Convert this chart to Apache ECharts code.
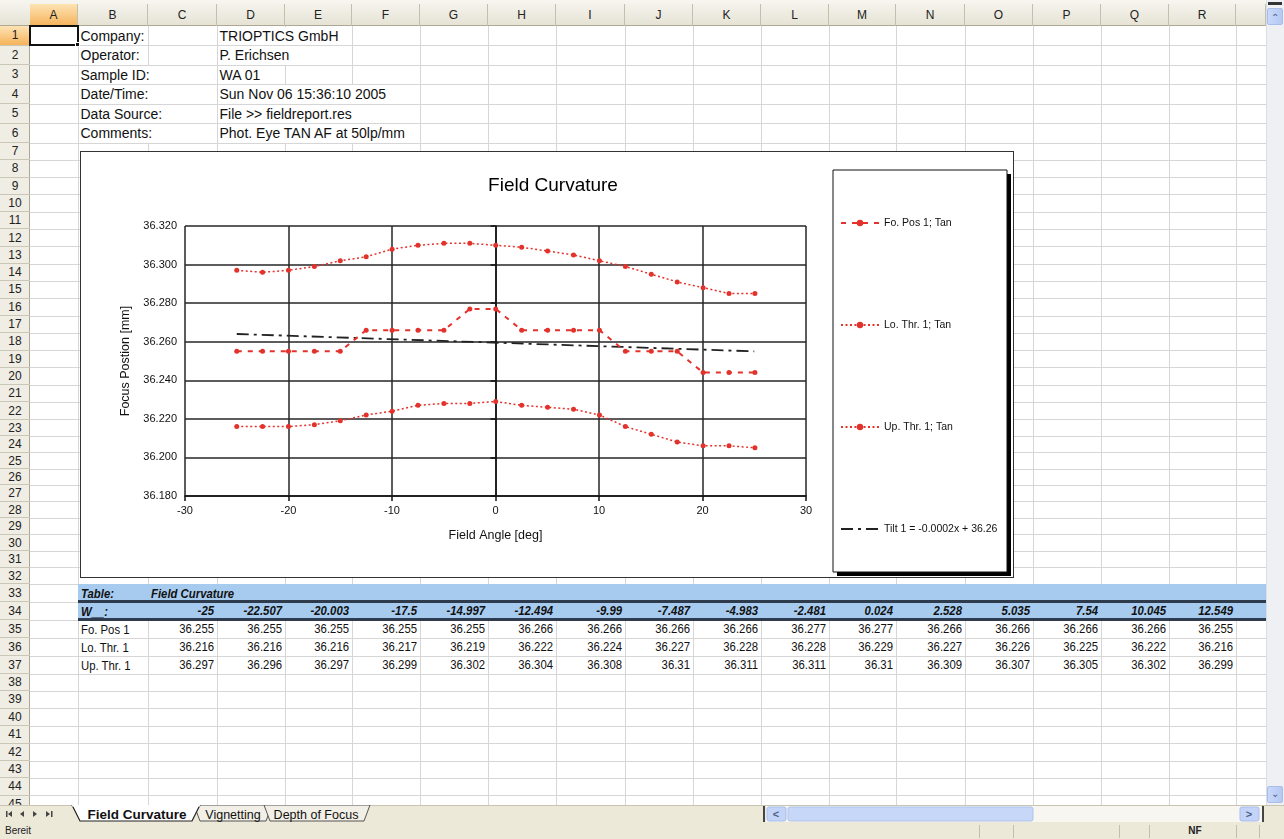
<!DOCTYPE html>
<html><head><meta charset="utf-8">
<script src="https://cdn.jsdelivr.net/npm/echarts@6/dist/echarts.min.js"></script>
<style>
html,body{margin:0;padding:0;}
body{width:1284px;height:839px;overflow:hidden;background:#fff;position:relative;font-family:Arial,'Liberation Sans',sans-serif;}
#sheet div{box-sizing:border-box;}
</style></head>
<body>
<div id="sheet"></div>
<div id="chartWrap" style="position:absolute;left:80px;top:151px;width:934px;height:427px;border:1px solid #333;box-sizing:border-box;background:#fff;">
  <div id="chart" style="width:932px;height:425px;"></div>
</div>
<script>
// ---------------- data ----------------
const infoLabels = ['Company:', 'Operator:', 'Sample ID:', 'Date/Time:', 'Data Source:', 'Comments:'];
const infoValues = ['TRIOPTICS GmbH', 'P. Erichsen', 'WA 01', 'Sun Nov 06 15:36:10 2005', 'File >> fieldreport.res', 'Phot. Eye TAN AF at 50lp/mm'];
const seriesNames = ['Fo. Pos 1; Tan', 'Lo. Thr. 1; Tan', 'Up. Thr. 1; Tan', 'Tilt 1 = -0.0002x + 36.26'];
const tableRowLabels = ['Fo. Pos 1', 'Lo. Thr. 1', 'Up. Thr. 1'];
const xAngles = [-25, -22.507, -20.003, -17.5, -14.997, -12.494, -9.99, -7.487, -4.983, -2.481, 0.024, 2.528, 5.035, 7.54, 10.045, 12.549, 15.052, 17.556, 20.06, 22.563, 25.066];
const foPos = [36.255, 36.255, 36.255, 36.255, 36.255, 36.266, 36.266, 36.266, 36.266, 36.277, 36.277, 36.266, 36.266, 36.266, 36.266, 36.255, 36.255, 36.255, 36.244, 36.244, 36.244];
const loThr = [36.216, 36.216, 36.216, 36.217, 36.219, 36.222, 36.224, 36.227, 36.228, 36.228, 36.229, 36.227, 36.226, 36.225, 36.222, 36.216, 36.212, 36.208, 36.206, 36.206, 36.205];
const upThr = [36.297, 36.296, 36.297, 36.299, 36.302, 36.304, 36.308, 36.31, 36.311, 36.311, 36.31, 36.309, 36.307, 36.305, 36.302, 36.299, 36.295, 36.291, 36.288, 36.285, 36.285];
const tiltX = [-25, 25];
const tiltY = [36.264, 36.255];
const tableCount = 16;
const xTicks = { min: -30, max: 30, step: 10 };
const yTicks = { min: 36.18, max: 36.32, step: 0.02 };

// ---------------- spreadsheet ----------------
const sheet = document.getElementById('sheet');
function box(l, t, w, h, style, html) {
  const d = document.createElement('div');
  d.style.cssText = 'position:absolute;left:' + l + 'px;top:' + t + 'px;width:' + w + 'px;height:' + h + 'px;' + (style || '');
  if (html != null) d.innerHTML = html;
  sheet.appendChild(d);
  return d;
}
const colEdges = [30, 78, 148, 217, 285, 352, 420, 488, 556, 625, 693, 761, 829, 896, 965, 1033, 1101, 1169, 1236, 1266];
const colLetters = ['A','B','C','D','E','F','G','H','I','J','K','L','M','N','O','P','Q','R',''];
const rowTop = {};
for (let n = 1; n <= 46; n++) {
  if (n <= 7) rowTop[n] = 26 + (n - 1) * 19.5;
  else if (n <= 23) rowTop[n] = 143 + (n - 7) * 17.3;
  else if (n <= 33) rowTop[n] = 419.8 + (n - 23) * 16.42;
  else if (n <= 38) rowTop[n] = 584 + (n - 33) * 18;
  else rowTop[n] = 674 + (n - 38) * 17.4;
}
const rowH = n => rowTop[n + 1] - rowTop[n];
const GRID = '#d6d6d6';
const SHEET_BOTTOM = 805;
for (let n = 1; n <= 45; n++) box(30, rowTop[n + 1] - 0.5, 1236, 1, 'background:' + GRID);
for (let i = 1; i < colEdges.length - 1; i++) box(colEdges[i] - 0.5, 26, 1, SHEET_BOTTOM - 26, 'background:' + GRID);
// blue table header rows 33-34
box(78, rowTop[33], 1188, rowTop[35] - rowTop[33], 'background:#a7cbef');
box(78, rowTop[34] - 2, 1188, 3, 'background:#2e3b4c');
box(78, rowTop[35] - 2, 1188, 3, 'background:#2e3b4c');

// column header row
box(0, 0, 1266, 26, 'background:linear-gradient(#f7f6f0,#e6e3d5);border-bottom:1px solid #aca895');
box(0, 26, 30, SHEET_BOTTOM - 26, 'background:#efede4;border-right:1px solid #aca895');
for (let i = 0; i < colEdges.length - 1; i++) {
  const l = colEdges[i], w = colEdges[i + 1] - l;
  const sel = i === 0;
  box(l, 4, w, 22, (sel ? 'background:linear-gradient(#fde3b4,#f6b35a);' : '') +
    'border-right:1px solid #c4c0ae;font-size:12px;color:#222;text-align:center;line-height:22px;', colLetters[i]);
}
for (let n = 1; n <= 45; n++) {
  const sel = n === 1;
  box(0, rowTop[n], 30, rowH(n), (sel ? 'background:linear-gradient(#fde3b4,#f6b35a);' : '') +
    'border-bottom:1px solid #cbc7b6;font-size:12px;color:#222;text-align:center;line-height:' + rowH(n) + 'px;', String(n));
}
const mctx = document.createElement('canvas').getContext('2d');
function textW(txt, font) { mctx.font = font; return mctx.measureText(txt).width; }
function leftCell(ci, n, txt, font, scale, bg) {
  const l = colEdges[ci];
  const w = textW(txt, font) * (scale || 1) + 4;
  let r = colEdges[ci + 1];
  let k = ci + 1;
  while (l + w > r && k < colEdges.length - 1) { k++; r = colEdges[k]; }
  const d = box(l + 0.5, rowTop[n] + 0.5, r - l - 1, rowH(n) - 1,
    'background:' + (bg || '#fff') + ';white-space:nowrap;overflow:visible;');
  const s = document.createElement('div');
  s.style.cssText = 'position:absolute;left:2px;top:0;white-space:nowrap;font:' + font + ';color:#111;line-height:' + (rowH(n) - 1) + 'px;transform-origin:left center;transform:scaleX(' + (scale || 1) + ');';
  s.textContent = txt;
  d.appendChild(s);
}
function rightCell(ci, n, txt, font, scale) {
  const l = colEdges[ci], w = colEdges[ci + 1] - l;
  const d = box(l, rowTop[n], w - 3, rowH(n), 'white-space:nowrap;text-align:right;font:' + font +
    ';color:#111;line-height:' + rowH(n) + 'px;transform-origin:right center;transform:scaleX(' + scale + ');');
  d.textContent = txt;
}
const infoFont = '14px Arial, "Liberation Sans", sans-serif';
for (let i = 0; i < infoLabels.length; i++) {
  leftCell(1, i + 1, infoLabels[i], infoFont, 1);
  leftCell(3, i + 1, infoValues[i], infoFont, 1);
}
const nf = '13.5px Arial, "Liberation Sans", sans-serif';
const bif = 'italic bold 13.5px Arial, "Liberation Sans", sans-serif';
leftCell(1, 33, 'Table:', bif, 0.84, 'transparent');
leftCell(2, 33, 'Field Curvature', bif, 0.84, 'transparent');
leftCell(1, 34, 'W__:', bif, 0.84, 'transparent');
for (let j = 0; j < tableCount; j++) rightCell(2 + j, 34, String(xAngles[j]), bif, 0.84);
const tableSeries = [foPos, loThr, upThr];
for (let r = 0; r < 3; r++) {
  leftCell(1, 35 + r, tableRowLabels[r], nf, 0.84);
  for (let j = 0; j < tableCount; j++) rightCell(2 + j, 35 + r, String(tableSeries[r][j]), nf, 0.84);
}
// A1 selection
box(29, rowTop[1] - 1, 50, rowH(1) + 1, 'border:2px solid #111;');
box(75, rowTop[2] - 4, 5, 5, 'background:#111;border:1px solid #fff;');

// vertical scrollbar
box(1266, 0, 18, SHEET_BOTTOM, 'background:#eef0f4;border-left:1px solid #d9dde6');
box(1268, 2, 14, 3, 'background:#333');
box(1267, 8, 16, 17, 'background:linear-gradient(90deg,#c9d8fa,#b5c9f2);border:1px solid #a8bde9;border-radius:2px;font-size:10px;color:#4d6185;text-align:center;line-height:17px;', '&#8963;');
box(1267, SHEET_BOTTOM - 19, 16, 17, 'background:linear-gradient(90deg,#c9d8fa,#b5c9f2);border:1px solid #a8bde9;border-radius:2px;font-size:10px;color:#4d6185;text-align:center;line-height:14px;', '&#8964;');

// tab bar + horizontal scrollbar
box(0, SHEET_BOTTOM, 1284, 18, 'background:#ece9d8;border-top:1px solid #c8c4b2');
const tabSvg = `
<svg width="1284" height="18" style="position:absolute;left:0;top:0" xmlns="http://www.w3.org/2000/svg">
 <g fill="#444">
  <rect x="6" y="6" width="1.5" height="6"/><polygon points="12,6 12,12 8,9"/>
  <polygon points="24,6 24,12 20,9"/>
  <polygon points="33,6 33,12 37,9"/>
  <polygon points="46,6 46,12 50,9"/><rect x="51" y="6" width="1.5" height="6"/>
 </g>
 <polygon points="194,0 200,16 266,16 272,0" fill="#f1efe6" stroke="#555" stroke-width="1"/>
 <polygon points="264,0 270,16 364,16 370,0" fill="#f1efe6" stroke="#555" stroke-width="1"/>
 <polygon points="72,0 80,16 192,16 200,0" fill="#ffffff" stroke="#222" stroke-width="1.2"/>
 <line x1="72" y1="0.5" x2="200" y2="0.5" stroke="#fff" stroke-width="2"/>
 <text x="137" y="13.5" font-family="Arial, Liberation Sans, sans-serif" font-size="13.5" font-weight="bold" text-anchor="middle" fill="#111">Field Curvature</text>
 <text x="233" y="13.5" font-family="Arial, Liberation Sans, sans-serif" font-size="12.5" text-anchor="middle" fill="#111">Vignetting</text>
 <text x="316" y="13.5" font-family="Arial, Liberation Sans, sans-serif" font-size="12.5" text-anchor="middle" fill="#111">Depth of Focus</text>
 <rect x="763" y="1" width="2" height="16" fill="#444"/>
 <rect x="766" y="1" width="498" height="16" fill="#f7f6f1"/>
 <rect x="767" y="2" width="19" height="14" rx="2" fill="#c3d4f8" stroke="#a8bde9"/>
 <text x="776" y="13" font-size="11" font-family="Arial" text-anchor="middle" fill="#4d6185" font-weight="bold">&lt;</text>
 <rect x="788" y="2" width="245" height="14" rx="2" fill="#c7d7f7" stroke="#b0c3ec"/>
 <rect x="1240" y="2" width="19" height="14" rx="2" fill="#c3d4f8" stroke="#a8bde9"/>
 <text x="1249" y="13" font-size="11" font-family="Arial" text-anchor="middle" fill="#4d6185" font-weight="bold">&gt;</text>
 <rect x="1262" y="1" width="2" height="16" fill="#444"/>
</svg>`;
box(0, SHEET_BOTTOM, 1284, 18, '', tabSvg);
// status bar
box(0, 823, 1284, 16, 'background:#ece9d8;');
box(5, 823, 80, 16, 'font-size:10px;color:#222;line-height:16px;', 'Bereit');
[979, 1013, 1119, 1149, 1236, 1259].forEach(x => box(x, 825, 1, 13, 'background:#c3bfae'));
box(1170, 823, 50, 16, 'font-size:10px;color:#222;line-height:16px;text-align:center;font-weight:bold', 'NF');

// ---------------- chart ----------------
const RED = '#e3322c';
const chart = echarts.init(document.getElementById('chart'), null, { renderer: 'canvas' });
const pts = arr => xAngles.map((x, i) => [x, arr[i]]);
const fontFam = 'Arial, "Liberation Sans", sans-serif';
const legendData = seriesNames.map((n, i) => i === 3
  ? { name: n, itemStyle: { color: 'rgba(0,0,0,0)', borderColor: 'rgba(0,0,0,0)', borderWidth: 0 } }
  : { name: n });
const option = {
  animation: false,
  backgroundColor: '#fff',
  textStyle: { fontFamily: fontFam },
  title: {
    text: 'Field Curvature', left: 467, top: 19, textAlign: 'center',
    textStyle: { fontSize: 19, fontWeight: 'normal', color: '#000', fontFamily: fontFam }
  },
  graphic: [
    { type: 'rect', shape: { x: 756, y: 22, width: 174, height: 402 }, style: { fill: '#000' }, z: 0 },
    { type: 'rect', shape: { x: 752, y: 18, width: 174, height: 402 }, style: { fill: '#fff', stroke: '#111', lineWidth: 1 }, z: 1 }
  ],
  legend: {
    orient: 'vertical', left: 754, top: 60, itemWidth: 38, itemHeight: 8, itemGap: 90,
    textStyle: { fontSize: 10.5, color: '#111', fontFamily: fontFam, lineHeight: 12 },
    data: legendData, z: 5
  },
  grid: { left: 104, top: 74, width: 621, height: 270 },
  xAxis: {
    type: 'value', min: xTicks.min, max: xTicks.max, interval: xTicks.step,
    name: 'Field Angle [deg]', nameLocation: 'middle', nameGap: 33,
    nameTextStyle: { fontSize: 12.5, color: '#111' },
    axisLine: { onZero: false, lineStyle: { color: '#111', width: 1.5 } },
    axisTick: { show: true, length: 5, lineStyle: { color: '#111', width: 1.5 } },
    axisLabel: { fontSize: 11, color: '#111', margin: 9 },
    splitLine: { show: true, lineStyle: { color: '#262626', width: 1.5 } }
  },
  yAxis: {
    type: 'value', min: yTicks.min, max: yTicks.max, interval: yTicks.step,
    name: 'Focus Postion [mm]', nameLocation: 'middle', nameGap: 42,
    nameTextStyle: { fontSize: 12.5, color: '#111' },
    axisLine: { show: true, lineStyle: { color: '#111', width: 1.5 } },
    axisTick: { show: true, length: 5, lineStyle: { color: '#111', width: 1.5 } },
    axisLabel: { fontSize: 11, color: '#111', margin: 8, formatter: v => v.toFixed(3) },
    splitLine: { show: true, lineStyle: { color: '#262626', width: 1.5 } }
  },
  series: [
    { name: seriesNames[0], type: 'line', data: pts(foPos), symbol: 'circle', symbolSize: 5,
      itemStyle: { color: RED }, lineStyle: { color: RED, width: 2, type: [5, 6] }, z: 3 },
    { name: seriesNames[1], type: 'line', data: pts(loThr), symbol: 'circle', symbolSize: 5,
      itemStyle: { color: RED }, lineStyle: { color: RED, width: 1.5, type: [2, 2.5] }, z: 3 },
    { name: seriesNames[2], type: 'line', data: pts(upThr), symbol: 'circle', symbolSize: 5,
      itemStyle: { color: RED }, lineStyle: { color: RED, width: 1.5, type: [2, 2.5] }, z: 3 },
    { name: seriesNames[3], type: 'line', data: tiltX.map((x, i) => [x, tiltY[i]]), symbol: 'none',
      itemStyle: { color: '#222' }, lineStyle: { color: '#222', width: 1.8, type: [12, 5, 3, 5] }, z: 2 }
  ]
};
chart.setOption(option);
</script>
</body></html>
